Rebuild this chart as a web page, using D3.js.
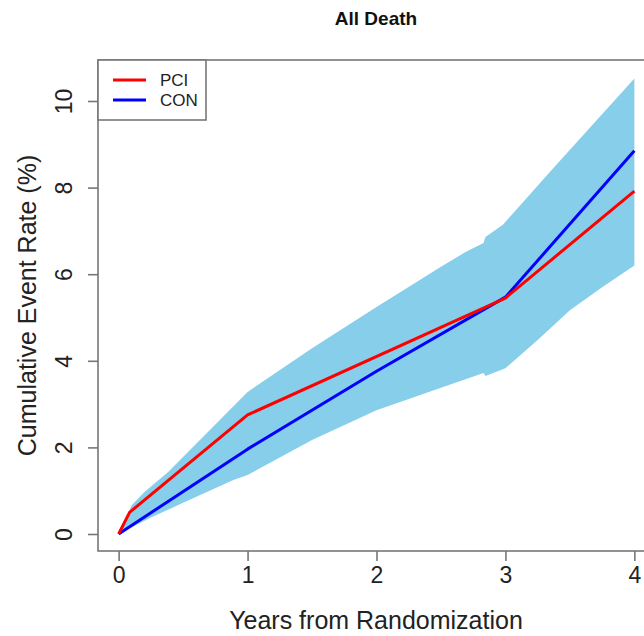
<!DOCTYPE html>
<html><head><meta charset="utf-8">
<script src="https://cdn.jsdelivr.net/npm/d3@7"></script>
<style>body{margin:0;background:#fff}svg{display:block;font-family:"Liberation Sans",Arial,sans-serif}</style>
</head><body><svg id="c" width="644" height="636"></svg>
<script>
const title = "All Death";
const xLabel = "Years from Randomization";
const yLabel = "Cumulative Event Rate (%)";
const xTicks = [0, 1, 2, 3, 4];
const yTicks = [0, 2, 4, 6, 8, 10];
const seriesNames = ["PCI", "CON"];
const seriesColors = ["#ff0000", "#0000ff"];
const pciT = [0, 0.085, 1, 3, 4];
const pciV = [0, 0.5, 2.75, 5.45, 7.92];
const conT = [0, 1, 2, 3, 4];
const conV = [0, 1.96, 3.76, 5.47, 8.85];
const upperT = [0, 0.1, 0.2, 0.38, 0.7, 1.0, 1.5, 2.0, 2.5, 2.69, 2.83, 2.845, 2.98, 3.36, 4.0];
const upperV = [0, 0.66, 0.97, 1.42, 2.38, 3.28, 4.29, 5.24, 6.17, 6.51, 6.72, 6.86, 7.14, 8.41, 10.52];
const lowerT = [0, 0.25, 0.5, 0.89, 1.0, 1.5, 2.0, 2.5, 2.83, 2.845, 3.0, 3.25, 3.5, 3.75, 4.0];
const lowerV = [0, 0.38, 0.72, 1.25, 1.36, 2.17, 2.86, 3.38, 3.72, 3.65, 3.83, 4.48, 5.17, 5.7, 6.2];

const svg = d3.select("#c");
const L = 98, R = 655, T = 60, B = 551;
const x = d3.scaleLinear().domain([-0.16, 4.16]).range([L, R]);
const y = d3.scaleLinear().domain([0, 10]).range([534, 101]);

const band = upperT.map((t,i)=>[t, upperV[i]]).concat(lowerT.map((t,i)=>[t, lowerV[i]]).reverse());
svg.append("path").attr("d", d3.line().x(d=>x(d[0])).y(d=>y(d[1]))(band) + "Z")
  .attr("fill", "#87ceeb").attr("stroke", "none");

const line = d3.line().x(d=>x(d[0])).y(d=>y(d[1]));
svg.append("path").attr("d", line(conT.map((t,i)=>[t, conV[i]])))
  .attr("fill","none").attr("stroke", seriesColors[1]).attr("stroke-width", 3).attr("stroke-linejoin","round");
svg.append("path").attr("d", line(pciT.map((t,i)=>[t, pciV[i]])))
  .attr("fill","none").attr("stroke", seriesColors[0]).attr("stroke-width", 3).attr("stroke-linejoin","round");

// box
svg.append("rect").attr("x", L).attr("y", T).attr("width", R - L).attr("height", B - T)
  .attr("fill","none").attr("stroke","#777").attr("stroke-width",1.6);

const FF = "Liberation Sans, Arial, sans-serif";
// x axis
const xa = svg.append("g").attr("transform", `translate(0,${B})`)
  .call(d3.axisBottom(x).tickValues(xTicks).tickSize(10).tickPadding(6).tickFormat(d3.format("d")));
xa.select(".domain").remove();
xa.selectAll("line").attr("stroke","#777").attr("stroke-width",1.6);
xa.selectAll("text").attr("font-size", 23).attr("fill","#222").attr("font-family",FF);

// y axis
const ya = svg.append("g").attr("transform", `translate(${L},0)`)
  .call(d3.axisLeft(y).tickValues(yTicks).tickSize(10).tickFormat(d3.format("d")));
ya.select(".domain").remove();
ya.selectAll("line").attr("stroke","#777").attr("stroke-width",1.6);
ya.selectAll("text").attr("font-size", 23).attr("fill","#222").attr("font-family",FF)
  .attr("text-anchor","middle").attr("x", null).attr("dy", null)
  .attr("transform", "translate(-34,0) rotate(-90)").attr("y", 0).attr("dy","0.35em");

// titles
svg.append("text").attr("x", 376).attr("y", 25).attr("text-anchor","middle")
  .attr("font-size", 19).attr("font-weight","bold").attr("fill","#111").text(title);
svg.append("text").attr("x", 376).attr("y", 629).attr("text-anchor","middle")
  .attr("font-size", 25).attr("fill","#222").text(xLabel);
svg.append("text").attr("transform", `translate(36,${(T+B)/2}) rotate(-90)`).attr("text-anchor","middle")
  .attr("font-size", 25).attr("fill","#222").text(yLabel);

// legend
const lg = svg.append("g");
lg.append("rect").attr("x", L).attr("y", T).attr("width", 108).attr("height", 60)
  .attr("fill","#fff").attr("stroke","#777").attr("stroke-width",1.6);
seriesNames.forEach((n,i)=>{
  const yy = 80 + i*20;
  lg.append("line").attr("x1",113).attr("x2",146).attr("y1",yy).attr("y2",yy)
    .attr("stroke", seriesColors[i]).attr("stroke-width",3);
  lg.append("text").attr("x",160).attr("y",yy).attr("dy","0.35em").attr("font-size",17).attr("fill","#222").text(n);
});
</script></body></html>
